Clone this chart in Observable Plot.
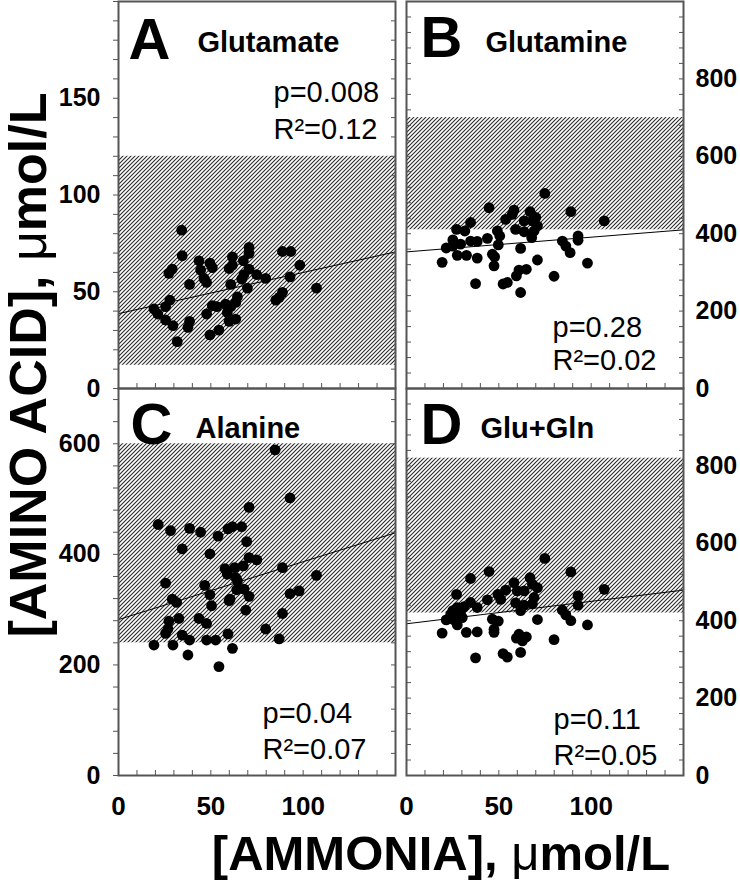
<!DOCTYPE html>
<html>
<head>
<meta charset="utf-8">
<script src="https://cdn.jsdelivr.net/npm/d3@7"></script>
<script src="https://cdn.jsdelivr.net/npm/@observablehq/plot@0.6"></script>
<style>
  body { margin: 0; background: #fff; }
  #root { position: relative; width: 740px; height: 882px; overflow: hidden; font-family: "Liberation Sans", Arial, sans-serif; }
  #root > svg { position: absolute; }
</style>
</head>
<body>
<svg width="0" height="0" style="position:absolute">
  <defs>
    <pattern id="hatch" patternUnits="userSpaceOnUse" width="4" height="4">
      <path d="M-1,1 l2,-2 M0,4 l4,-4 M3,5 l2,-2" stroke="#2a2a2a" stroke-width="1.1"></path>
    </pattern>
  </defs>
</svg>
<div id="root"></div>
<script>
// ---------------- data ----------------
const panelIds = ["A", "B", "C", "D"];
const panelNames = ["Glutamate", "Glutamine", "Alanine", "Glu+Gln"];
const pValues = ["p=0.008", "p=0.28", "p=0.04", "p=0.11"];
const r2Values = ["R²=0.12", "R²=0.02", "R²=0.07", "R²=0.05"];
const xDomain = [0, 150];
const xTickLabels = [0, 50, 100];
const xMinorStep = 10;
const yMax = [200, 1000, 700, 1000];
const yTickLabels = [[0, 50, 100, 150], [0, 200, 400, 600, 800], [0, 200, 400, 600], [0, 200, 400, 600, 800]];
const yMinorStep = [10, 40, 40, 40];
const normalLow = [12, 410, 240, 420];
const normalHigh = [120, 700, 600, 820];
const fitAtXmin = [38.7, 353, 282, 392];
const fitAtXmax = [70.6, 410, 439, 479];

const gluX = [34.2,34.5,43.6,49.5,50.8,44.5,29.1,27.3,61.7,61.7,59.9,70.7,70.7,67.6,70.7,67.9,66.7,74.9,79.7,88.8,93.3,98.2,92.9,107.2,46.3,47.7,38.5,60.8,69.8,27.8,25.5,19.2,21.3,25.5,29.5,38.5,37.6,31.8,49.5,47.7,53.2,58.0,60.8,64.4,63.5,58.9,59.9,63.5,54.4,85.2,88.8,87.0,50.8];
const gluY = [81.8,68.6,66,64.8,62.5,61.2,61.7,59.5,68,63.7,62,72.9,69.8,66,61.7,58.8,56.5,58.8,56.9,70.8,70.8,63.7,57.7,51.9,56.9,54.8,53.8,53.8,51.9,45.7,42.3,41.1,38.5,35.4,32.5,34.7,31.6,24.2,27.7,38.5,42.3,43.6,42.3,47.4,44.5,39.3,34.7,35.9,30.2,45.7,49.7,47.1,42.8];

const glnX = [74.9,44.7,58.2,57.3,66.9,89.0,107.1,53.7,34.7,27.1,31.6,63.7,68.2,70.0,70.9,59.1,63.7,69.1,49.2,50.5,67.8,43.8,25.1,34.7,38.3,29.3,25.1,21.5,49.7,84.4,86.3,92.9,92.9,88.6,61.8,27.5,32.5,38.3,46.5,47.7,19.3,47.4,70.9,98.0,60.9,64.9,59.5,79.9,37.4,52.3,54.6,61.8];
const glnY = [504,467,461,450,457,457,433,437,429,411,407,433,433,442,420,411,405,407,407,394,390,388,384,381,380,373,368,363,371,381,368,394,383,351,362,344,344,337,347,340,326,317,332,324,306,308,291,290,271,270,274,248];

const alaX = [84.8,92.9,70.7,21.5,28.2,38.5,44.5,53.9,59.3,61.7,66.7,69.4,34.5,49.5,70.7,74.9,67.6,57.7,62.9,58.9,88.8,107.2,63.5,64.4,25.5,46.7,64.0,68.0,92.9,97.8,49.5,70.7,29.1,31.5,60.4,59.9,50.4,68.9,88.8,43.6,32.7,27.3,47.7,26.8,25.5,34.5,59.3,79.7,38.5,47.7,52.6,87.0,19.2,29.5,61.7,37.6,54.4];
const alaY = [589,502,485,454,443,447,440,433,446,450,450,423,410,401,394,390,379,374,376,364,376,362,358,352,348,344,336,337,329,334,327,324,319,313,319,316,307,299,293,284,284,279,275,265,257,254,256,265,245,245,245,247,236,236,230,218,197];

const sumX = [74.9,44.7,89.0,34.7,58.2,66.9,68.2,70.9,53.7,60.0,63.7,107.1,27.1,49.5,51.0,69.1,92.9,43.8,34.7,59.1,63.7,68.2,92.9,61.8,38.3,31.1,27.5,25.1,29.3,23.9,28.0,30.2,84.4,86.3,89.0,46.5,49.7,70.9,21.5,25.7,27.5,98.0,47.4,47.4,19.3,32.4,38.3,59.5,60.9,64.9,62.8,79.9,61.8,52.3,54.6,37.4];
const sumY = [561,527,526,509,498,511,494,485,479,477,477,481,468,468,455,460,464,454,447,446,440,444,440,426,434,436,434,426,423,415,412,408,427,415,400,404,399,403,402,402,389,389,378,370,368,370,371,355,365,358,348,351,318,315,306,304];

const seriesX = [gluX, glnX, alaX, sumX];
const seriesY = [gluY, glnY, alaY, sumY];

const xTitle = "[AMMONIA], ";
const yTitle = "[AMINO ACID], ";
const unitMu = "\u03bc";
const unitRest = "mol/L";

// ---------------- layout (positions & styles) ----------------
const FONT = "Liberation Sans, Arial, sans-serif";
const frameW = 277, frameH = 387;
const M = {left: 70, right: 70, top: 10, bottom: 60};
const layout = [
  {left: 118, top: 1,   yLabelSide: "left",  xLabels: false, letter: [10, 57], name: [79, 50], p: [155, 100], r2: [155, 137]},
  {left: 406, top: 1,   yLabelSide: "right", xLabels: false, letter: [14, 55], name: [79, 50], p: [146, 335], r2: [146, 368]},
  {left: 118, top: 388, yLabelSide: "left",  xLabels: true,  letter: [12, 55], name: [77, 49], p: [144, 334], r2: [144, 370]},
  {left: 406, top: 388, yLabelSide: "right", xLabels: true,  letter: [14, 55], name: [74, 49], p: [147, 340], r2: [147, 376]}
];
const ink = "#555";
const root = document.getElementById("root");

panelIds.forEach((id, i) => {
  const L = layout[i];
  const pts = seriesX[i].map((x, k) => ({x, y: seriesY[i][k]}));
  const band = [{lo: normalLow[i], hi: normalHigh[i]}];
  const fit = xDomain.map((x, j) => ({x, y: j === 0 ? fitAtXmin[i] : fitAtXmax[i]}));
  const yMinor = d3.range(0, yMax[i] + 0.001, yMinorStep[i]);
  const xMinor = d3.range(xDomain[0], xDomain[1] + 0.001, xMinorStep);
  const blank = () => "";
  const txt = (s, pos, size, weight) => Plot.text([s], {
    frameAnchor: "top-left", textAnchor: "start", lineAnchor: "bottom",
    dx: pos[0], dy: pos[1], fontSize: size, fontWeight: weight, fill: "black", fontFamily: FONT
  });
  const marks = [
    Plot.rect(band, {y1: "lo", y2: "hi", fill: "url(#hatch)"}),
    Plot.line(fit, {x: "x", y: "y", stroke: "black", strokeWidth: 1}),
    Plot.dot(pts, {x: "x", y: "y", r: 5.4, fill: "black", stroke: "none"}),
    Plot.axisX({anchor: "bottom", ticks: xMinor, tickSize: -5, tickFormat: blank, stroke: ink, label: null}),
    Plot.axisY({anchor: "left", ticks: yMinor, tickSize: L.yLabelSide === "left" ? 5 : -5, tickFormat: blank, stroke: ink, label: null}),
    Plot.axisY({anchor: "right", ticks: yMinor, tickSize: -5, tickFormat: blank, stroke: ink, label: null}),
    Plot.axisY({anchor: L.yLabelSide, ticks: yTickLabels[i], tickSize: 0, tickPadding: L.yLabelSide === "left" ? 18 : 12,
      fontSize: 25, fontWeight: "bold", fill: "black", label: null}),
    Plot.frame({stroke: ink, strokeWidth: 2}),
    txt(id, L.letter, 58, "bold"),
    txt(panelNames[i], L.name, 29, "bold"),
    txt(pValues[i], L.p, 29, "normal"),
    txt(r2Values[i], L.r2, 29, "normal")
  ];
  if (L.xLabels) {
    marks.push(Plot.axisX({anchor: "bottom", ticks: xTickLabels, tickSize: 0, tickPadding: 21,
      fontSize: 26, fontWeight: "bold", fill: "black", label: null}));
  }
  const chart = Plot.plot({
    width: M.left + frameW + M.right,
    height: M.top + frameH + M.bottom,
    marginLeft: M.left, marginRight: M.right, marginTop: M.top, marginBottom: M.bottom,
    style: {background: "transparent", overflow: "visible", fontFamily: FONT},
    x: {domain: xDomain},
    y: {domain: [0, yMax[i]]},
    marks
  });
  chart.style.position = "absolute";
  chart.style.left = (L.left - M.left) + "px";
  chart.style.top = (L.top - M.top) + "px";
  chart.style.maxWidth = "none";
  root.appendChild(chart);
});

// axis titles
const svg = d3.select(root).append("svg")
  .attr("width", 740).attr("height", 882)
  .style("position", "absolute").style("left", 0).style("top", 0)
  .style("pointer-events", "none").style("overflow", "visible");

const yt = svg.append("text")
  .attr("transform", "translate(46,365) rotate(-90)")
  .attr("text-anchor", "middle")
  .attr("font-family", FONT).attr("font-size", 52).attr("font-weight", "bold");
yt.append("tspan").text(yTitle);
yt.append("tspan").attr("font-weight", "normal").text(unitMu);
yt.append("tspan").text(unitRest);

const xt = svg.append("text")
  .attr("x", 441).attr("y", 870)
  .attr("text-anchor", "middle")
  .attr("font-family", FONT).attr("font-size", 49).attr("font-weight", "bold");
xt.append("tspan").text(xTitle);
xt.append("tspan").attr("font-weight", "normal").text(unitMu);
xt.append("tspan").text(unitRest);
</script>
</body>
</html>
